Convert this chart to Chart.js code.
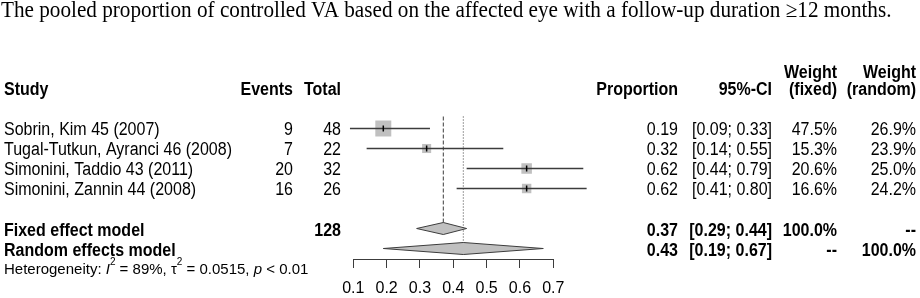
<!DOCTYPE html>
<html>
<head>
<meta charset="utf-8">
<script src="https://cdn.jsdelivr.net/npm/chart.js@4/dist/chart.umd.min.js"></script>
<style>
  html, body { margin: 0; padding: 0; background: #fff; }
  #forest { display: block; }
</style>
</head>
<body>
<canvas id="forest" width="920" height="298"></canvas>
<script>
// data
const title = 'The pooled proportion of controlled VA based on the affected eye with a follow-up duration \u226512 months.';
const studies = ['Sobrin, Kim 45 (2007)', 'Tugal-Tutkun, Ayranci 46 (2008)', 'Simonini, Taddio 43 (2011)', 'Simonini, Zannin 44 (2008)'];
const events = [9, 7, 20, 16];
const totals = [48, 22, 32, 26];
const proportions = [0.19, 0.32, 0.62, 0.62];
const ciLow = [0.09, 0.14, 0.44, 0.41];
const ciHigh = [0.33, 0.55, 0.79, 0.80];
const weightFixed = [47.5, 15.3, 20.6, 16.6];
const weightRandom = [26.9, 23.9, 25.0, 24.2];

const models = ['Fixed effect model', 'Random effects model'];
const modelTotals = [128, null];
const modelProps = [0.37, 0.43];
const modelLow = [0.29, 0.19];
const modelHigh = [0.44, 0.67];
const modelWeightFixed = ['100.0%', '--'];
const modelWeightRandom = ['--', '100.0%'];

const xTicks = [0.1, 0.2, 0.3, 0.4, 0.5, 0.6, 0.7];

// row positions (one unit = one text line)
const studyRows = [1, 2, 3, 4];
const modelRows = [6, 7];

const SANS = '"Liberation Sans", Arial, sans-serif';
const LINE = '#3c3c3c';
const GREY = '#c0c0c0';
const DIAMOND_H = 0.3;
const STRETCH = 1.15; // the figure's text is a bit taller than it is wide

const datasets = [];

// reference lines for the pooled estimates
datasets.push({
    data: [{ x: modelProps[0], y: 0.4 }, { x: modelProps[0], y: modelRows[0] - DIAMOND_H }],
    showLine: true, borderColor: LINE, borderWidth: 1, borderDash: [4, 2],
    pointRadius: 0, clip: false, order: 9
});
datasets.push({
    data: [{ x: modelProps[1], y: 0.4 }, { x: modelProps[1], y: modelRows[1] }],
    showLine: true, borderColor: LINE, borderWidth: 1, borderDash: [1, 2],
    pointRadius: 0, clip: false, order: 9
});

// study squares, size by fixed weight
datasets.push({
    data: proportions.map((p, i) => ({ x: p, y: studyRows[i] })),
    pointStyle: 'rect',
    pointRadius: weightFixed.map(w => 2.32 * Math.sqrt(w) / Math.SQRT2),
    backgroundColor: GREY, borderWidth: 0, clip: false, order: 8
});

// confidence intervals
studies.forEach((s, i) => {
    datasets.push({
        data: [{ x: ciLow[i], y: studyRows[i] }, { x: ciHigh[i], y: studyRows[i] }],
        showLine: true, borderColor: LINE, borderWidth: 1.5,
        pointRadius: 0, clip: false, order: 5
    });
});

// centre ticks
datasets.push({
    data: proportions.map((p, i) => ({ x: p, y: studyRows[i] })),
    pointStyle: 'line', rotation: 90, pointRadius: 3,
    borderColor: '#000', borderWidth: 1.5, clip: false, order: 1
});

// pooled diamonds
models.forEach((m, i) => {
    const r = modelRows[i];
    datasets.push({
        data: [
            { x: modelLow[i], y: r },
            { x: modelProps[i], y: r - DIAMOND_H },
            { x: modelHigh[i], y: r },
            { x: modelProps[i], y: r + DIAMOND_H },
            { x: modelLow[i], y: r }
        ],
        showLine: true, fill: 'shape', tension: 0,
        borderColor: LINE, borderWidth: 1, backgroundColor: GREY,
        pointRadius: 0, clip: false, order: 6
    });
});

// text drawn slightly stretched in height
function txt(ctx, t, x, y, font, align, sy) {
    ctx.save();
    ctx.font = font;
    ctx.textAlign = align || 'left';
    ctx.translate(x, y);
    ctx.scale(1, sy || STRETCH);
    ctx.fillText(t, 0, 0);
    ctx.restore();
}

function drawRun(ctx, parts, x, y, sy) {
    // parts: [text, font, dy]
    parts.forEach(([t, f, dy]) => {
        txt(ctx, t, x, y + (dy || 0), f, 'left', sy);
        ctx.font = f;
        x += ctx.measureText(t).width;
    });
}

const tablePlugin = {
    id: 'tableText',
    afterDraw(chart) {
        const ctx = chart.ctx;
        const yScale = chart.scales.y;
        const rowY = r => yScale.getPixelForValue(r) + 1;
        const col = { study: 4, events: 293, total: 341, prop: 678, ci: 772, wf: 837, wr: 916 };
        const norm = '16px ' + SANS, bold = 'bold 16px ' + SANS;

        ctx.save();
        ctx.fillStyle = '#000';

        ctx.textBaseline = 'alphabetic';
        txt(ctx, title, 1, 17, '21.2px "Liberation Serif", "Times New Roman", serif', 'left', 1.05);
        ctx.textBaseline = 'middle';

        // header
        const hy = 90;
        txt(ctx, 'Study', col.study, hy, bold);
        txt(ctx, 'Events', col.events, hy, bold, 'right');
        txt(ctx, 'Total', col.total, hy, bold, 'right');
        txt(ctx, 'Proportion', col.prop, hy, bold, 'right');
        txt(ctx, '95%-CI', col.ci, hy, bold, 'right');
        txt(ctx, 'Weight', col.wf, hy - 17, bold, 'right');
        txt(ctx, '(fixed)', col.wf, hy, bold, 'right');
        txt(ctx, 'Weight', col.wr, hy - 17, bold, 'right');
        txt(ctx, '(random)', col.wr, hy, bold, 'right');

        // study rows
        studies.forEach((s, i) => {
            const y = rowY(studyRows[i]);
            txt(ctx, s, col.study, y, norm);
            txt(ctx, String(events[i]), col.events, y, norm, 'right');
            txt(ctx, String(totals[i]), col.total, y, norm, 'right');
            txt(ctx, proportions[i].toFixed(2), col.prop, y, norm, 'right');
            txt(ctx, '[' + ciLow[i].toFixed(2) + '; ' + ciHigh[i].toFixed(2) + ']', col.ci, y, norm, 'right');
            txt(ctx, weightFixed[i].toFixed(1) + '%', col.wf, y, norm, 'right');
            txt(ctx, weightRandom[i].toFixed(1) + '%', col.wr, y, norm, 'right');
        });

        // pooled rows
        models.forEach((m, i) => {
            const y = rowY(modelRows[i]) + 1;
            txt(ctx, m, col.study, y, bold);
            if (modelTotals[i] !== null) txt(ctx, String(modelTotals[i]), col.total, y, bold, 'right');
            txt(ctx, modelProps[i].toFixed(2), col.prop, y, bold, 'right');
            txt(ctx, '[' + modelLow[i].toFixed(2) + '; ' + modelHigh[i].toFixed(2) + ']', col.ci, y, bold, 'right');
            txt(ctx, modelWeightFixed[i], col.wf, y, bold, 'right');
            txt(ctx, modelWeightRandom[i], col.wr, y, bold, 'right');
        });

        // heterogeneity
        const hf = '15px ' + SANS, hi = 'italic 15px ' + SANS, hs = '10px ' + SANS;
        drawRun(ctx, [
            ['Heterogeneity: ', hf], ['I', hi], ['2', hs, -7], [' = 89%, ', hf],
            ['\u03c4', hf], ['2', hs, -7], [' = 0.0515, ', hf], ['p', hi], [' < 0.01', hf]
        ], col.study, 269.5, 1.0);

        ctx.restore();
    }
};

new Chart(document.getElementById('forest'), {
    type: 'scatter',
    data: { datasets: datasets },
    options: {
        responsive: false,
        animation: false,
        devicePixelRatio: 1,
        layout: { padding: { left: 353.3, right: 366.7, top: 116.5, bottom: 0 } },
        plugins: { legend: { display: false }, tooltip: { enabled: false } },
        scales: {
            x: {
                type: 'linear', min: 0.1, max: 0.7,
                afterFit: s => { s.height = 39; },
                afterBuildTicks: s => { s.ticks = xTicks.map(v => ({ value: v })); },
                grid: { drawOnChartArea: false, drawTicks: true, tickLength: 9, color: LINE },
                border: { display: true, color: LINE },
                ticks: {
                    callback: v => v.toFixed(1), autoSkip: false, maxRotation: 0,
                    color: '#000', padding: 11, font: { family: SANS, size: 16 }
                }
            },
            y: { type: 'linear', display: false, reverse: true, min: 0.4, max: 7.525 }
        }
    },
    plugins: [tablePlugin]
});
</script>
</body>
</html>
